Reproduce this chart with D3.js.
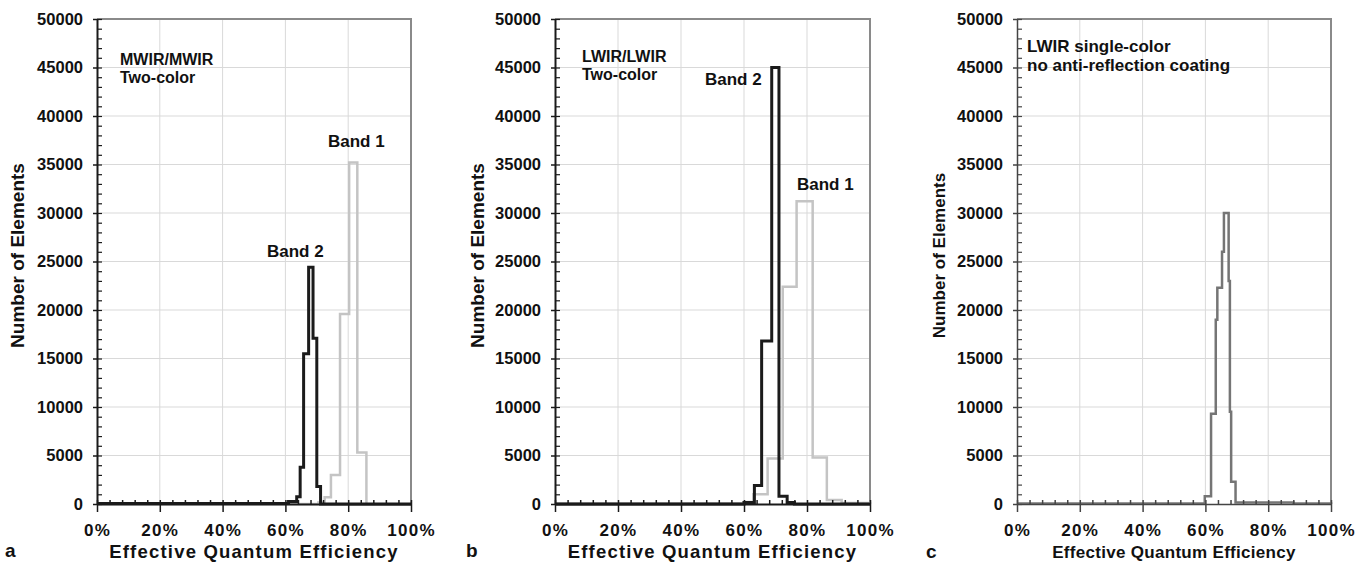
<!DOCTYPE html>
<html>
<head>
<meta charset="utf-8">
<script src="https://cdn.jsdelivr.net/npm/d3@7.9.0/dist/d3.min.js"></script>
<style>
  body { margin: 0; background: #fff; }
  svg { display: block; }
  text { font-family: "Liberation Sans", Arial, sans-serif; font-weight: bold; fill: #111; }
</style>
</head>
<body>
<svg id="chart" width="1367" height="563"></svg>
<script>
// tick values
const xTicks = [0, 20, 40, 60, 80, 100];
const xMinor = [4, 8, 12, 16, 24, 28, 32, 36, 44, 48, 52, 56, 64, 68, 72, 76, 84, 88, 92, 96];
const yTicks = [0, 5000, 10000, 15000, 20000, 25000, 30000, 35000, 40000, 45000, 50000];

// panel a: MWIR/MWIR two-color (bin edges in %, counts per bin)
const aBand1Edges = [0, 70.5, 72.5, 74.5, 77.4, 80.3, 82.9, 85.8];
const aBand1Counts = [0, 150, 700, 3000, 19600, 35200, 5300];
const aBand2Edges = [0, 61, 63.6, 64.7, 65.8, 67.4, 68.8, 70.0, 71.2, 100];
const aBand2Counts = [60, 250, 750, 3800, 15500, 24400, 17100, 1800, 0];

// panel b: LWIR/LWIR two-color
const bBand1Edges = [0, 60, 63, 67.5, 72.3, 76.7, 81.8, 86.3, 91, 100];
const bBand1Counts = [80, 200, 1000, 4700, 22400, 31200, 4800, 400, 100];
const bBand2Edges = [0, 60, 63.3, 65.6, 68.8, 71.1, 73.7, 76, 100];
const bBand2Counts = [0, 150, 1900, 16800, 45000, 800, 150, 0];

// panel c: LWIR single-color, no AR coating
const cEdges = [0, 59.8, 61.8, 63.3, 63.8, 65.3, 65.9, 67.4, 67.8, 68.2, 69.6, 88, 100];
const cCounts = [60, 800, 9300, 19000, 22300, 26000, 30000, 23000, 9500, 2300, 150, 50];

const svg = d3.select('#chart');
const plotTop = 19, plotBottom = 504;

const panels = [
  {
    letter: 'a', x0: 97, x1: 411, axisColor: '#1a1a1a', axisWidth: 2,
    yTitle: { x: 17, size: 19 }, xTitle: { size: 18.5, spacing: 1.2 },
    letterPos: [5, 557],
    series: [
      { edges: aBand1Edges, counts: aBand1Counts, color: '#c4c4c4', width: 2.5 },
      { edges: aBand2Edges, counts: aBand2Counts, color: '#1b1b1b', width: 3 },
    ],
    notes: [
      { text: 'MWIR/MWIR', x: 120, y: 65, size: 16 },
      { text: 'Two-color', x: 120, y: 83, size: 16 },
      { text: 'Band 1', x: 328, y: 147, size: 17 },
      { text: 'Band 2', x: 267, y: 257, size: 17 },
    ],
  },
  {
    letter: 'b', x0: 555, x1: 870, axisColor: '#1a1a1a', axisWidth: 2,
    yTitle: { x: 477, size: 19 }, xTitle: { size: 18.5, spacing: 1.2 },
    letterPos: [466, 557],
    series: [
      { edges: bBand1Edges, counts: bBand1Counts, color: '#c4c4c4', width: 2.5 },
      { edges: bBand2Edges, counts: bBand2Counts, color: '#1b1b1b', width: 3 },
    ],
    notes: [
      { text: 'LWIR/LWIR', x: 582, y: 62, size: 16 },
      { text: 'Two-color', x: 582, y: 80, size: 16 },
      { text: 'Band 2', x: 705, y: 85, size: 17 },
      { text: 'Band 1', x: 797, y: 190, size: 17 },
    ],
  },
  {
    letter: 'c', x0: 1017, x1: 1331, axisColor: '#444', axisWidth: 1.5,
    yTitle: { x: 939, size: 17 }, xTitle: { size: 17, spacing: 0.3 },
    letterPos: [926, 558],
    series: [
      { edges: cEdges, counts: cCounts, color: '#757575', width: 2.5 },
    ],
    notes: [
      { text: 'LWIR single-color', x: 1027, y: 52, size: 17 },
      { text: 'no anti-reflection coating', x: 1027, y: 71, size: 17 },
    ],
  },
];

panels.forEach(p => {
  const x = d3.scaleLinear().domain([0, 100]).range([p.x0, p.x1]);
  const y = d3.scaleLinear().domain([0, 50000]).range([plotBottom, plotTop]);
  const g = svg.append('g');

  // gridlines
  g.append('g').selectAll('line')
    .data(xTicks.slice(1, -1))
    .join('line')
    .attr('x1', d => x(d)).attr('x2', d => x(d))
    .attr('y1', plotTop).attr('y2', plotBottom)
    .attr('stroke', '#d9d9d9').attr('stroke-width', 1);
  g.append('g').selectAll('line')
    .data(yTicks.slice(1, -1))
    .join('line')
    .attr('x1', p.x0).attr('x2', p.x1)
    .attr('y1', d => y(d)).attr('y2', d => y(d))
    .attr('stroke', '#d9d9d9').attr('stroke-width', 1);

  // top and right frame
  g.append('path')
    .attr('d', `M${p.x0},${plotTop}H${p.x1}V${plotBottom}`)
    .attr('fill', 'none').attr('stroke', '#8a8a8a').attr('stroke-width', 2);

  // step histograms
  const line = d3.line()
    .x(d => x(d[0]))
    .y(d => y(d[1]))
    .curve(d3.curveStepAfter);
  p.series.forEach(s => {
    const pts = s.edges.map((e, i) => [e, i < s.counts.length ? s.counts[i] : 0]);
    g.append('path')
      .datum(pts)
      .attr('d', line)
      .attr('fill', 'none')
      .attr('stroke', s.color)
      .attr('stroke-width', s.width)
      .attr('stroke-linejoin', 'miter');
  });

  // y axis
  const yAxis = g.append('g')
    .attr('transform', `translate(${p.x0},0)`)
    .call(d3.axisLeft(y).tickValues(yTicks).tickSizeInner(4).tickSizeOuter(0).tickPadding(10).tickFormat(d3.format('d')));
  yAxis.selectAll('text').style('font-size', '16.5px');
  // inner minor ticks
  const yMinor = g.append('g')
    .attr('transform', `translate(${p.x0},0)`)
    .call(d3.axisRight(y).ticks(50).tickSizeInner(5).tickSizeOuter(0).tickFormat(''))
    .call(a => a.select('.domain').remove());

  // x axis
  const xAxis = g.append('g')
    .attr('transform', `translate(0,${plotBottom})`)
    .call(d3.axisBottom(x).tickValues(xTicks).tickSizeInner(8).tickSizeOuter(0).tickFormat(d => d + '%'));
  xAxis.selectAll('text').attr('y', 32).attr('dy', 0)
    .style('font-size', '17px').style('letter-spacing', '1.3px');
  g.append('g')
    .attr('transform', `translate(0,${plotBottom})`)
    .call(d3.axisTop(x).tickValues(xTicks.concat(xMinor)).tickSizeInner(4).tickSizeOuter(0).tickFormat(''))
    .call(a => a.select('.domain').remove());

  [yAxis, xAxis].forEach(a => {
    a.select('.domain').attr('stroke', p.axisColor).attr('stroke-width', p.axisWidth);
  });
  g.selectAll('.tick line').attr('stroke', p.axisColor).attr('stroke-width', 1.5);
  yMinor.selectAll('.tick line').attr('stroke-width', 1.2);
  g.selectAll('.tick text').attr('fill', '#111');

  // axis titles
  g.append('text')
    .attr('transform', `translate(${p.yTitle.x},${(plotTop + plotBottom) / 2 - 6}) rotate(-90)`)
    .attr('text-anchor', 'middle')
    .attr('dominant-baseline', 'central')
    .style('font-size', p.yTitle.size + 'px')
    .text('Number of Elements');
  g.append('text')
    .attr('x', (p.x0 + p.x1) / 2)
    .attr('y', 558)
    .attr('text-anchor', 'middle')
    .style('font-size', p.xTitle.size + 'px')
    .style('letter-spacing', p.xTitle.spacing + 'px')
    .text('Effective Quantum Efficiency');

  // annotations
  p.notes.forEach(n => {
    g.append('text')
      .attr('x', n.x).attr('y', n.y)
      .style('font-size', n.size + 'px')
      .text(n.text);
  });

  // panel letter
  g.append('text')
    .attr('x', p.letterPos[0]).attr('y', p.letterPos[1])
    .style('font-size', '19px')
    .text(p.letter);
});
</script>
</body>
</html>
